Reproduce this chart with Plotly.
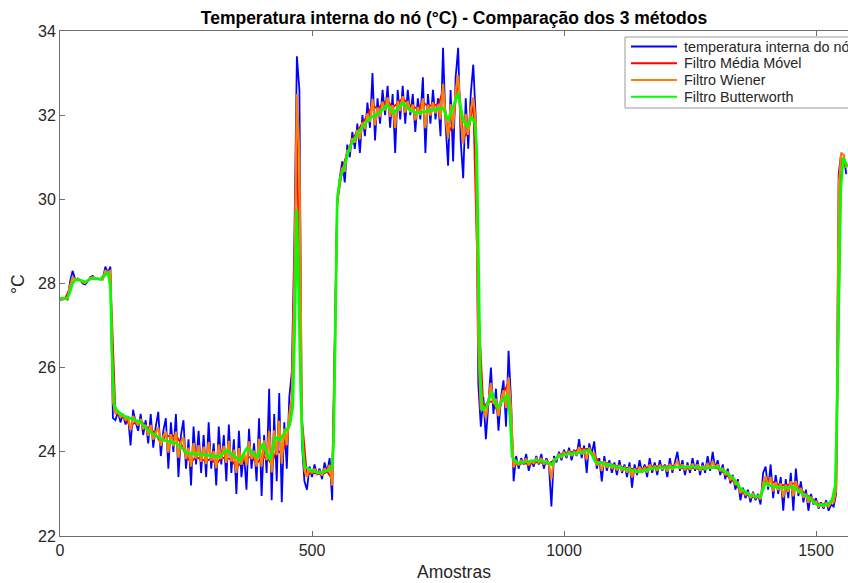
import plotly.graph_objects as go

# Raw node temperature, one reading every 5 samples
RAW_STEP = 5
temp_raw = [
    27.62, 27.62, 27.64, 27.62, 28.05, 28.30, 28.10, 28.12, 28.08, 28.00,
    27.98, 28.05, 28.15, 28.18, 28.10, 28.12, 28.10, 28.10, 28.40, 28.25,
    28.40, 24.80, 24.75, 24.95, 24.70, 24.90, 24.65, 24.85, 24.15, 25.00,
    24.70, 24.50, 24.90, 24.40, 24.75, 24.20, 24.90, 24.10, 24.60, 24.95,
    23.90, 24.50, 24.80, 23.60, 24.70, 24.00, 24.90, 23.40, 24.40, 24.75,
    23.60, 24.30, 23.20, 24.60, 23.70, 24.50, 23.50, 24.40, 23.40, 24.70,
    23.60, 24.20, 23.20, 24.60, 23.70, 24.40, 23.30, 24.65, 23.50, 24.30,
    23.00, 24.50, 23.40, 24.00, 23.10, 24.55, 23.60, 24.20, 23.30, 24.80,
    22.95, 24.40, 23.50, 25.50, 22.85, 24.90, 23.30, 25.40, 22.80, 24.70,
    23.60, 25.30, 25.90, 29.00, 33.40, 32.60, 24.20, 23.30, 23.10, 23.65,
    23.40, 23.70, 23.45, 23.60, 23.35, 23.75, 23.50, 23.85, 22.85, 26.50,
    29.90, 30.50, 30.90, 30.40, 31.30, 31.00, 31.60, 31.20, 31.80, 31.10,
    32.00, 31.50, 32.30, 31.70, 33.00, 31.40, 32.40, 31.80, 32.60, 32.00,
    32.70, 31.70, 32.50, 31.10, 32.60, 31.90, 32.70, 31.80, 32.60, 32.00,
    32.50, 31.60, 32.40, 31.90, 32.90, 31.10, 32.50, 31.80, 32.60, 31.90,
    32.40, 31.50, 33.60, 31.80, 30.80, 32.60, 30.90, 32.90, 33.60, 31.40,
    30.50, 32.40, 31.20, 32.50, 33.20, 31.90, 25.60, 24.60, 25.30, 24.30,
    25.10, 26.00, 24.90, 25.50, 24.50, 25.30, 25.70, 24.60, 26.40, 25.20,
    23.30, 23.90, 23.60, 23.85, 23.70, 23.95, 23.55, 23.80, 23.65, 23.90,
    23.70, 23.95, 23.60, 23.85, 23.70, 22.70, 23.90, 23.75, 24.00, 23.80,
    24.05, 23.85, 24.10, 23.80, 24.05, 23.90, 24.30, 23.85, 24.15, 23.50,
    24.20, 23.95, 24.25, 23.60, 23.85, 23.30, 23.90, 23.55, 23.80, 23.50,
    23.75, 23.45, 23.80, 23.50, 23.70, 23.40, 23.75, 23.15, 23.70, 23.45,
    23.80, 23.50, 23.70, 23.40, 23.85, 23.50, 23.75, 23.45, 23.80, 23.55,
    23.70, 23.40, 23.85, 23.50, 23.75, 24.00, 23.55, 23.80, 23.45, 23.75,
    23.50, 23.85, 23.55, 23.80, 23.45, 23.75, 23.50, 23.90, 23.55, 24.00,
    23.60, 23.80, 23.45, 23.70, 23.35, 23.60, 23.25, 23.45, 23.10, 23.35,
    22.85, 23.15, 22.90, 23.10, 22.80, 23.05, 22.85, 23.00, 22.75, 23.50,
    23.65, 23.10, 23.70, 22.90, 23.45, 23.00, 23.40, 22.60, 23.35, 22.90,
    23.50, 22.60, 23.60, 22.95, 23.30, 22.80, 23.10, 22.60, 23.00, 22.75,
    22.90, 22.65, 22.80, 22.65, 22.85, 22.60, 22.75, 22.70, 23.00, 30.60,
    31.10, 31.05, 30.60,
]

# Wiener filter output, same sample grid as the raw series
filtro_wiener = [
    27.63, 27.63, 27.64, 27.64, 27.95, 28.15, 28.10, 28.11, 28.08, 28.03,
    28.01, 28.06, 28.13, 28.15, 28.11, 28.11, 28.10, 28.10, 28.30, 28.27,
    28.30, 25.20, 24.90, 24.96, 24.83, 24.88, 24.76, 24.82, 24.52, 24.85,
    24.72, 24.63, 24.78, 24.54, 24.64, 24.38, 24.64, 24.29, 24.46, 24.58,
    24.14, 24.37, 24.48, 23.98, 24.42, 24.13, 24.48, 23.86, 24.23, 24.34,
    23.83, 24.10, 23.65, 24.21, 23.84, 24.16, 23.76, 24.12, 23.71, 24.23,
    23.79, 24.02, 23.61, 24.17, 23.83, 24.14, 23.74, 24.26, 23.77, 24.05,
    23.50, 24.09, 23.69, 23.98, 23.68, 24.25, 23.83, 24.03, 23.65, 24.31,
    23.65, 24.27, 23.80, 24.49, 23.51, 24.51, 23.92, 24.74, 23.72, 24.55,
    24.16, 24.89, 25.30, 28.00, 32.50, 31.00, 24.60, 23.57, 23.40, 23.60,
    23.49, 23.60, 23.48, 23.54, 23.44, 23.61, 23.53, 23.69, 23.20, 25.80,
    29.95, 30.47, 30.75, 30.66, 31.15, 31.15, 31.45, 31.35, 31.65, 31.43,
    31.83, 31.67, 32.04, 31.84, 32.38, 31.76, 32.18, 31.96, 32.32, 32.11,
    32.42, 31.96, 32.24, 31.70, 32.34, 32.10, 32.45, 32.06, 32.34, 32.07,
    32.25, 31.88, 32.19, 32.00, 32.40, 31.69, 32.25, 31.99, 32.31, 32.04,
    32.25, 31.90, 32.74, 31.93, 31.45, 32.26, 31.68, 32.58, 32.95, 31.88,
    31.33, 32.03, 31.53, 32.14, 32.42, 31.81, 26.50, 25.00, 25.10, 24.80,
    25.20, 25.64, 25.14, 25.26, 24.85, 25.24, 25.46, 25.04, 25.77, 25.00,
    23.63, 23.80, 23.68, 23.79, 23.74, 23.84, 23.68, 23.79, 23.73, 23.84,
    23.75, 23.85, 23.70, 23.79, 23.72, 23.35, 23.83, 23.82, 23.94, 23.87,
    23.98, 23.91, 24.02, 23.90, 24.00, 23.94, 24.11, 23.94, 24.07, 23.82,
    24.10, 23.95, 23.97, 23.68, 23.77, 23.55, 23.78, 23.63, 23.73, 23.60,
    23.69, 23.56, 23.69, 23.56, 23.63, 23.51, 23.64, 23.39, 23.60, 23.50,
    23.64, 23.53, 23.62, 23.51, 23.70, 23.57, 23.67, 23.55, 23.69, 23.59,
    23.65, 23.53, 23.71, 23.57, 23.68, 23.78, 23.60, 23.70, 23.56, 23.68,
    23.58, 23.72, 23.60, 23.70, 23.55, 23.67, 23.57, 23.73, 23.60, 23.78,
    23.62, 23.70, 23.54, 23.62, 23.45, 23.53, 23.34, 23.40, 23.23, 23.27,
    23.02, 23.11, 22.98, 23.03, 22.90, 23.00, 22.91, 22.96, 22.87, 23.26,
    23.42, 23.17, 23.40, 23.06, 23.28, 23.09, 23.25, 22.92, 23.22, 23.05,
    23.30, 22.94, 23.31, 23.02, 23.14, 22.91, 23.00, 22.79, 22.93, 22.79,
    22.82, 22.70, 22.76, 22.70, 22.78, 22.70, 22.79, 22.80, 23.10, 30.30,
    31.10, 31.05, 30.75,
]

# Moving-average filter output, one value every 10 samples
MM_STEP = 10
filtro_media_movel = [
    27.64, 27.64, 27.90, 28.10, 28.08, 28.02, 28.12, 28.11, 28.10, 28.25,
    28.20, 24.95, 24.85, 24.78, 24.60, 24.72, 24.75, 24.60, 24.55, 24.42,
    24.20, 24.40, 24.35, 24.40, 24.20, 23.90, 23.75, 23.88, 23.82, 23.78,
    23.84, 23.70, 23.86, 23.85, 23.82, 23.62, 23.75, 23.85, 23.88, 23.72,
    23.85, 23.88, 23.70, 24.05, 23.95, 24.30, 25.20, 31.50, 24.80, 23.45,
    23.50, 23.48, 23.46, 23.53, 23.35, 29.90, 30.72, 31.12, 31.42, 31.62,
    31.80, 32.00, 32.25, 32.14, 32.28, 32.35, 32.18, 32.28, 32.40, 32.28,
    32.20, 32.15, 32.32, 32.20, 32.26, 32.22, 32.60, 31.55, 31.80, 32.85,
    31.45, 31.60, 32.30, 27.50, 25.05, 25.20, 25.18, 24.90, 25.40, 25.65,
    23.70, 23.70, 23.74, 23.70, 23.74, 23.76, 23.72, 23.72, 23.80, 23.92,
    23.97, 24.00, 23.99, 24.08, 24.06, 24.08, 23.92, 23.75, 23.75, 23.72,
    23.68, 23.66, 23.62, 23.62, 23.58, 23.60, 23.60, 23.66, 23.65, 23.66,
    23.64, 23.68, 23.66, 23.62, 23.60, 23.60, 23.62, 23.58, 23.60, 23.62,
    23.64, 23.56, 23.48, 23.36, 23.26, 23.06, 23.00, 22.93, 22.93, 22.90,
    23.35, 23.32, 23.24, 23.22, 23.20, 23.24, 23.25, 23.10, 22.98, 22.92,
    22.80, 22.75, 22.76, 22.78, 23.20, 31.00, 30.78,
]

# Butterworth filter output (smooth), sample index / value pairs
butter_amostra = [
    0, 15, 20, 25, 30, 40, 50, 60, 65, 80, 90, 95, 100, 104, 108, 113,
    127, 159, 179, 204, 232, 252, 292, 317, 331, 357, 371, 391, 403, 417,
    427, 437, 446, 456, 462, 466, 470, 474, 478, 482, 486, 500, 515, 530,
    540, 543, 546, 550, 556, 562, 575, 595, 615, 635, 649, 661, 681, 694,
    708, 720, 740, 760, 770, 780, 790, 800, 808, 817, 823, 827, 830, 834,
    838, 845, 857, 867, 880, 889, 893, 897, 907, 946, 972, 976, 986, 1006,
    1030, 1050, 1056, 1062, 1090, 1130, 1150, 1177, 1230, 1256, 1284, 1304,
    1323, 1339, 1349, 1369, 1389, 1395, 1399, 1415, 1442, 1454, 1472, 1488,
    1502, 1522, 1532, 1538, 1541, 1545, 1549, 1554, 1563,
]
butter_temp = [
    27.65, 27.66, 27.80, 28.00, 28.08, 28.08, 28.04, 28.10, 28.13, 28.10,
    28.20, 28.28, 27.90, 26.00, 25.10, 24.98, 24.85, 24.71, 24.47, 24.28,
    24.20, 23.97, 23.92, 23.88, 24.04, 23.80, 24.09, 23.88, 24.20, 23.80,
    24.35, 24.28, 24.47, 24.64, 25.06, 27.00, 29.75, 27.50, 25.20, 24.00,
    23.65, 23.55, 23.50, 23.55, 23.62, 24.20, 27.00, 30.00, 30.50, 30.70,
    31.25, 31.65, 31.93, 32.07, 32.24, 32.05, 32.29, 32.12, 32.05, 32.07,
    32.12, 32.17, 31.88, 32.20, 32.52, 31.88, 31.72, 31.96, 31.81, 31.20,
    28.50, 25.80, 25.00, 25.05, 25.42, 25.04, 25.25, 25.35, 24.80, 23.88,
    23.73, 23.80, 23.73, 23.69, 23.88, 23.95, 23.98, 24.04, 23.92, 23.76,
    23.69, 23.57, 23.53, 23.61, 23.64, 23.64, 23.61, 23.64, 23.50, 23.33,
    23.14, 22.97, 22.93, 23.10, 23.26, 23.17, 23.14, 23.17, 23.02, 22.90,
    22.74, 22.74, 22.86, 23.20, 24.50, 27.50, 30.20, 30.98, 30.77,
]

series_names = [
    "temperatura interna do nó",
    "Filtro Média Móvel",
    "Filtro Wiener",
    "Filtro Butterworth",
]
series_colors = ["#0000FF", "#FF0000", "#FF8000", "#00FF00"]
series_widths = [1.8, 1.8, 2.2, 2.6]

x_raw = list(range(0, RAW_STEP * len(temp_raw), RAW_STEP))
x_mm = list(range(0, MM_STEP * len(filtro_media_movel), MM_STEP))

series = [
    (x_raw, temp_raw),
    (x_mm, filtro_media_movel),
    (x_raw, filtro_wiener),
    (butter_amostra, butter_temp),
]

fig = go.Figure()
for (xs, ys), name, color, width in zip(series, series_names, series_colors, series_widths):
    fig.add_trace(go.Scatter(
        x=xs, y=ys, mode="lines", name=name,
        line=dict(color=color, width=width),
        showlegend=False,
    ))

FONT = "Liberation Sans, Arial, Helvetica, sans-serif"
TXT = "#262626"
AX = "#6e6e6e"

W, H = 848, 583
L, R, T, B = 60, 0, 31, 47
PW, PH = W - L - R, H - T - B


def px_x(p):
    return (p - L) / PW


def px_y(p):
    return (H - B - p) / PH


# Legend box drawn in paper space
shapes = [dict(
    type="rect", xref="paper", yref="paper",
    x0=px_x(625), x1=px_x(900), y0=px_y(108), y1=px_y(37),
    line=dict(color="#9a9a9a", width=1), fillcolor="white", layer="above",
)]
annotations = []
row_y = [46.5, 63.3, 80.0, 96.7]
for ry, name, color in zip(row_y, series_names, series_colors):
    shapes.append(dict(
        type="line", xref="paper", yref="paper",
        x0=px_x(631), x1=px_x(677), y0=px_y(ry), y1=px_y(ry),
        line=dict(color=color, width=2), layer="above",
    ))
    annotations.append(dict(
        xref="paper", yref="paper", x=px_x(682), y=px_y(ry),
        text=name, showarrow=False, xanchor="left", yanchor="middle",
        font=dict(family=FONT, size=14.4, color=TXT),
    ))

annotations.append(dict(
    xref="paper", yref="paper", x=0.5, y=px_y(572),
    text="Amostras", showarrow=False, xanchor="center", yanchor="middle",
    font=dict(family=FONT, size=17.5, color=TXT),
))
annotations.append(dict(
    xref="paper", yref="paper", x=px_x(18), y=px_y(284),
    text="°C", showarrow=False, xanchor="center", yanchor="middle", textangle=-90,
    font=dict(family=FONT, size=17.5, color=TXT),
))

fig.update_layout(
    width=W, height=H,
    margin=dict(l=L, r=R, t=T, b=B, autoexpand=False),
    paper_bgcolor="white", plot_bgcolor="white",
    title=dict(
        text="Temperatura interna do nó (°C) - Comparação dos 3 métodos",
        x=0.5, xref="paper", xanchor="center",
        y=1 - 18 / H, yref="container", yanchor="middle",
        font=dict(family=FONT, size=17.5, color="#000000", weight="bold"),
    ),
    shapes=shapes,
    annotations=annotations,
    showlegend=False,
)

fig.update_xaxes(
    range=[0, 1563.5], tickvals=[0, 500, 1000, 1500],
    ticks="inside", ticklen=5, tickcolor=AX, tickwidth=1,
    showline=True, linecolor=AX, linewidth=1, mirror="ticks",
    showgrid=False, zeroline=False,
    tickfont=dict(family=FONT, size=16, color=TXT),
)
fig.update_yaxes(
    range=[22, 34], tickvals=[22, 24, 26, 28, 30, 32, 34],
    ticks="inside", ticklen=5, tickcolor=AX, tickwidth=1,
    showline=True, linecolor=AX, linewidth=1, mirror=False,
    showgrid=False, zeroline=False,
    tickfont=dict(family=FONT, size=16, color=TXT),
)

fig.write_html("out.html")
